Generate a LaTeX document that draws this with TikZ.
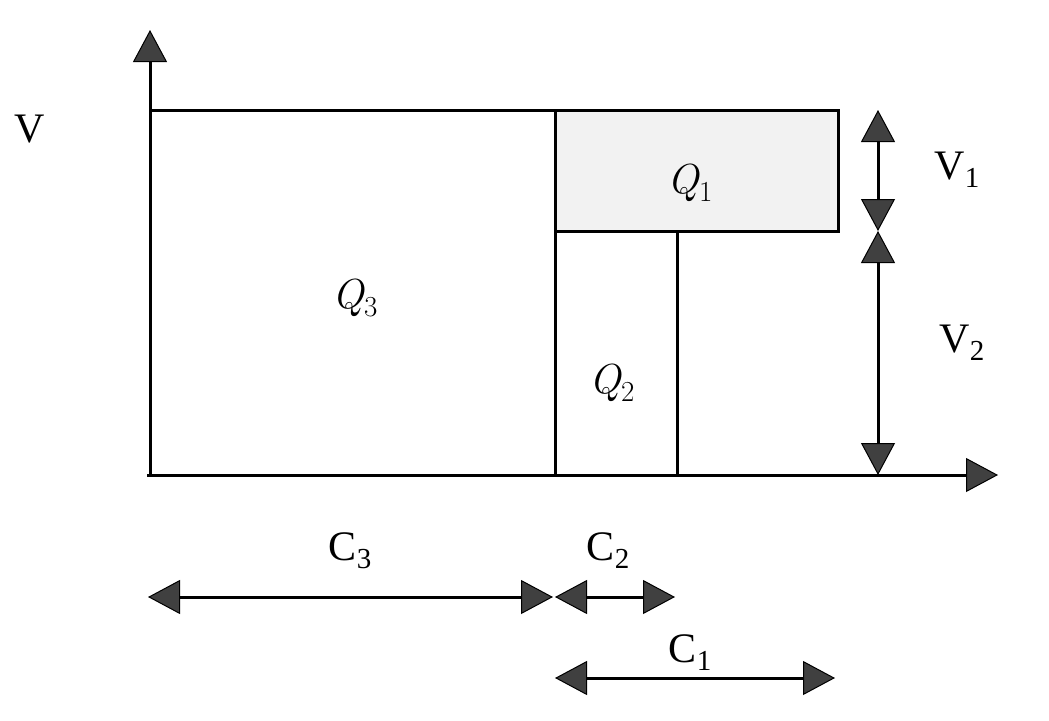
\documentclass[tikz,border=0pt]{standalone}
\usepackage{fontspec}
\setmainfont{Liberation Serif}
\newfontfamily\lmfont{Latin Modern Roman}
\usetikzlibrary{arrows.meta}
\definecolor{tipgray}{HTML}{404040}
\definecolor{qone}{HTML}{F2F2F2}
\newcommand\mysub[1]{\raisebox{-0.2em}{\fontsize{29}{30}\selectfont #1}}
\newcommand\myq[1]{{\lmfont\itshape Q}\mysub{\lmfont #1}}
\tikzset{
  ln/.style={line width=3pt, draw=black},
  dimarrow/.style={ln, {Triangle[length=32pt,width=34pt,fill=tipgray,line width=1pt]}-{Triangle[length=32pt,width=34pt,fill=tipgray,line width=1pt]}},
  axis/.style={ln, -{Triangle[length=32pt,width=34pt,fill=tipgray,line width=1pt]}},
  lbl/.style={font=\fontsize{42}{48}\selectfont, inner sep=0pt, anchor=base}
}
\begin{document}
\begin{tikzpicture}[x=1pt,y=-1pt]
\useasboundingbox (0,0) rectangle (1049,720);
% key points
\coordinate (O) at (150,475);
\coordinate (Ytop) at (150,30);
\coordinate (Xstart) at (147,475);
\coordinate (Xend) at (998,475);
\coordinate (TL) at (150,110);
\coordinate (M) at (555,110);
\coordinate (TR) at (838,110);
\coordinate (MR) at (838,231);
\coordinate (MM) at (555,231);
\coordinate (Q2R) at (677,231);
\coordinate (Q2B) at (677,475);
\coordinate (MB) at (555,475);
% Q1 fill
\fill[qone] (M) rectangle (MR);
% rectangles
\draw[ln] (TL) -- (TR) -- (MR) -- (MM);
\draw[ln] (M) -- (MB);
\draw[ln] (MM) -- (Q2R) -- (Q2B);
% axes
\draw[axis] (O) -- (Ytop);
\draw[axis] (Xstart) -- (Xend);
% V arrows
\coordinate (V1t) at (878,110);
\coordinate (V1b) at (878,231);
\coordinate (V2b) at (878,475);
\draw[dimarrow] (V1t) -- (V1b);
\draw[dimarrow] (V1b) -- (V2b);
% C arrows
\coordinate (C3l) at (148,597);
\coordinate (C3r) at (553,597);
\coordinate (C2l) at (555,597);
\coordinate (C2r) at (675,597);
\coordinate (C1l) at (555,678);
\coordinate (C1r) at (835,678);
\draw[dimarrow] (C3l) -- (C3r);
\draw[dimarrow] (C2l) -- (C2r);
\draw[dimarrow] (C1l) -- (C1r);
% labels
\node[lbl] (lV) at (30,142) {V};
\node[lbl] (lV1) at (957,179) {V\mysub{1}};
\node[lbl] (lV2) at (962,352) {V\mysub{2}};
\node[lbl] (lQ1) at (690,193) {\myq{1}};
\node[lbl] (lQ3) at (355,308) {\myq{3}};
\node[lbl] (lQ2) at (612,393) {\myq{2}};
\node[lbl] (lC3) at (350,560) {C\mysub{3}};
\node[lbl] (lC2) at (608,560) {C\mysub{2}};
\node[lbl] (lC1) at (690,662) {C\mysub{1}};
\end{tikzpicture}
\end{document}
